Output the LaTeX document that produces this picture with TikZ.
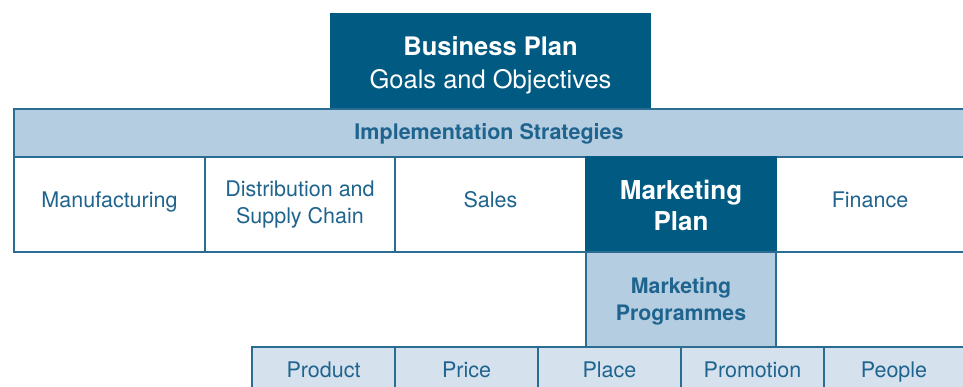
\documentclass[tikz,border=0pt]{standalone}
\usepackage{fontspec}
\setmainfont{TeX Gyre Heros}
\definecolor{darkb}{HTML}{015A81}
\definecolor{bandb}{HTML}{B5CDE0}
\definecolor{paleb}{HTML}{D5E2EE}
\definecolor{linec}{HTML}{2B6C93}
\definecolor{txt}{HTML}{1F648E}
\tikzset{
  cell/.style={draw=linec, line width=1.2pt, fill=white, text=txt, inner sep=0pt, outer sep=0pt,
    align=center, anchor=north west, font=\fontsize{21.5}{27}\selectfont},
  oneline/.style={text height=15.5pt, text depth=9pt},
  darkcell/.style={cell, fill=darkb, draw=darkb, text=white},
  bandcell/.style={cell, fill=bandb},
  palecell/.style={cell, fill=paleb, text height=15.5pt, text depth=0pt}
}
\begin{document}
\begin{tikzpicture}[x=1pt,y=-1pt]
\useasboundingbox (0,0) rectangle (963,387);
\clip (0,0) rectangle (963,387);
% business plan
\node[darkcell, minimum width=319pt, minimum height=95pt, font=\fontsize{25.5}{33}\selectfont] (bp) at (331,14) {\rule{0pt}{26pt}\textbf{Business Plan}\\Goals and Objectives};
% implementation band
\node[bandcell, text height=15.5pt, text depth=1.5pt, minimum width=960pt, minimum height=48pt, font=\bfseries\fontsize{21.5}{27}\selectfont] (impl) at (14,109) {\hspace*{-12pt}Implementation Strategies\hspace*{-2pt}};
% row of functions
\node[cell, oneline, minimum width=191pt, minimum height=95pt] (manu) at (14,157) {Manufacturing};
\node[cell, minimum width=190pt, minimum height=95pt] (dist) at (205,157) {Distribution and\\Supply Chain};
\node[cell, oneline, minimum width=191pt, minimum height=95pt] (sales) at (395,157) {Sales};
\node[cell, oneline, minimum width=200pt, minimum height=95pt] (fin) at (776,157) {\hspace*{-10pt}Finance\hspace*{2pt}};
\node[darkcell, minimum width=190pt, minimum height=95pt, font=\bfseries\fontsize{26}{31}\selectfont] (mp) at (586,157) {\rule{0pt}{21pt}Marketing\\Plan};
% marketing programmes
\node[bandcell, minimum width=190pt, minimum height=95pt, font=\bfseries\fontsize{21.3}{27}\selectfont] (prog) at (586,252) {\rule{0pt}{20pt}Marketing\\Programmes};
% 5 Ps
\node[palecell, minimum width=143pt, minimum height=46pt] (product) at (252,347) {Product};
\node[palecell, minimum width=143pt, minimum height=46pt] (price) at (395,347) {Price};
\node[palecell, minimum width=143pt, minimum height=46pt] (place) at (538,347) {Place};
\node[palecell, minimum width=143pt, minimum height=46pt] (promo) at (681,347) {Promotion};
\node[palecell, minimum width=150pt, minimum height=46pt] (people) at (824,347) {\hspace*{-8pt}People\hspace*{2pt}};
\end{tikzpicture}
\end{document}
